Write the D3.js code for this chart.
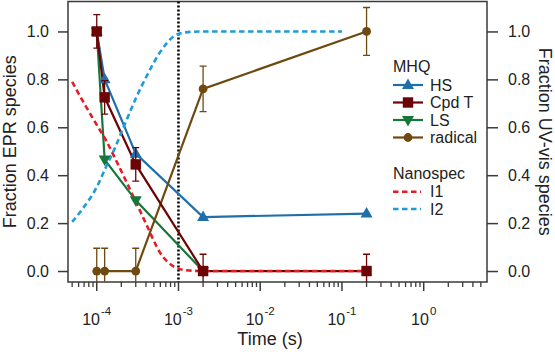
<!DOCTYPE html>
<html>
<head>
<meta charset="utf-8">
<script src="https://cdn.jsdelivr.net/npm/d3@7"></script>
<style>
  body { margin: 0; background: #fff; }
  svg { display: block; font-family: 'Liberation Sans', Arial, sans-serif; }
</style>
</head>
<body>
<div id="chart"></div>
<script>
/* MHQ (EPR) data */
const eprTimes = [1e-4, 1.25e-4, 3e-4, 2e-3, 2e-1];
const hsValues = [1.0, 0.80, 0.49, 0.225, 0.24];
const cpdTValues = [1.0, 0.725, 0.445, 0.0, 0.0];
const cpdTErrors = [0.07, 0.07, 0.07, 0.07, 0.07];
const lsTimes = [1e-4, 1.25e-4, 3e-4, 2e-3];
const lsValues = [1.0, 0.465, 0.295, 0.0];
const radicalValues = [0.0, 0.0, 0.0, 0.76, 1.0];
const radicalErrors = [0.095, 0.095, 0.095, 0.095, 0.1];

/* Nanospec (UV-vis) curves */
const i1Times = [5e-5, 7e-5, 1e-4, 1.3e-4, 1.65e-4, 2.25e-4, 3e-4, 4.1e-4, 6e-4, 8.8e-4, 1.2e-3, 2e-3, 1e-2, 1e-1, 2e-1];
const i1Values = [0.79, 0.70, 0.61, 0.545, 0.475, 0.38, 0.29, 0.19, 0.075, 0.018, 0.004, 0, 0, 0, 0];
const i2Times = [5e-5, 7e-5, 1e-4, 1.3e-4, 1.65e-4, 2.25e-4, 3e-4, 4.1e-4, 6e-4, 8.8e-4, 1.2e-3, 2e-3, 1e-2, 1e-1];
const i2Values = [0.205, 0.268, 0.35, 0.435, 0.51, 0.62, 0.72, 0.815, 0.915, 0.98, 0.996, 1, 1, 1];

/* Axes */
const yTicks = [0, 0.2, 0.4, 0.6, 0.8, 1.0];
const xMajorTicks = [1e-4, 1e-3, 1e-2, 1e-1, 1];
const xTickExponents = ['-4', '-3', '-2', '-1', '0'];
const markerTime = 1e-3;

const WIDTH = 555;
const HEIGHT = 352;
const FRAME_COLOR = '#3a3a3a';

const mhqSeries = [
  { name: 'HS', times: eprTimes, values: hsValues, errors: null, color: '#1f6fab', shape: 'up' },
  { name: 'LS', times: lsTimes, values: lsValues, errors: null, color: '#17773a', shape: 'down' },
  { name: 'radical', times: eprTimes, values: radicalValues, errors: radicalErrors, color: '#6e4a10', shape: 'circle' },
  { name: 'Cpd T', times: eprTimes, values: cpdTValues, errors: cpdTErrors, color: '#6c0406', shape: 'square' }
];
const legendOrder = ['HS', 'Cpd T', 'LS', 'radical'];

const nanoSeries = [
  { name: 'I1', times: i1Times, values: i1Values, color: '#e61b23' },
  { name: 'I2', times: i2Times, values: i2Values, color: '#1e9bdc' }
];

drawChart();

function drawChart () {
  const plot = { left: 68, right: 487, top: 1.5, bottom: 282 };

  const svg = d3.select('#chart')
    .append('svg')
    .attr('width', WIDTH)
    .attr('height', HEIGHT);

  const x = d3.scaleLog().domain([4.45e-5, 5.95]).range([plot.left, plot.right]);
  const y = d3.scaleLinear().domain([-0.0458, 1.125]).range([plot.bottom, plot.top]);

  svg.append('clipPath').attr('id', 'plot-clip')
    .append('rect')
    .attr('x', plot.left).attr('y', plot.top)
    .attr('width', plot.right - plot.left).attr('height', plot.bottom - plot.top);

  drawAxes(svg, x, y, plot);

  const g = svg.append('g').attr('clip-path', 'url(#plot-clip)');

  // vertical dotted line
  g.append('line')
    .attr('x1', x(markerTime)).attr('x2', x(markerTime))
    .attr('y1', plot.top).attr('y2', plot.bottom)
    .attr('stroke', '#000')
    .attr('stroke-width', 2.6)
    .attr('stroke-dasharray', '2,2');

  const line = d3.line().x(d => x(d.t)).y(d => y(d.v));
  const smooth = d3.line().x(d => x(d.t)).y(d => y(d.v)).curve(d3.curveMonotoneX);

  mhqSeries.forEach(s => {
    g.append('path')
      .attr('d', line(s.times.map((t, i) => ({ t, v: s.values[i] }))))
      .attr('fill', 'none')
      .attr('stroke', s.color)
      .attr('stroke-width', 2.2);
  });

  nanoSeries.forEach(s => {
    g.append('path')
      .attr('d', smooth(s.times.map((t, i) => ({ t, v: s.values[i] }))))
      .attr('fill', 'none')
      .attr('stroke', s.color)
      .attr('stroke-width', 2.6)
      .attr('stroke-dasharray', '5.5,3.5');
  });

  // error bars + markers
  mhqSeries.forEach(s => {
    s.times.forEach((t, i) => {
      const cx = x(t);
      const cy = y(s.values[i]);
      if (s.errors) {
        const lo = y(s.values[i] - s.errors[i]);
        const hi = y(s.values[i] + s.errors[i]);
        g.append('path')
          .attr('d', `M${cx},${lo}V${hi}M${cx - 3.5},${hi}H${cx + 3.5}M${cx - 3.5},${lo}H${cx + 3.5}`)
          .attr('fill', 'none')
          .attr('stroke', s.color)
          .attr('stroke-width', 1.3);
      }
      drawMarker(g, s.shape, cx, cy, s.color);
    });
  });

  drawLegend(svg);
}

function drawMarker (g, shape, cx, cy, color) {
  if (shape === 'circle') {
    g.append('circle').attr('cx', cx).attr('cy', cy).attr('r', 4.4).attr('fill', color);
  } else if (shape === 'square') {
    g.append('rect').attr('x', cx - 5.2).attr('y', cy - 5.2).attr('width', 10.4).attr('height', 10.4).attr('fill', color);
  } else if (shape === 'up') {
    g.append('path').attr('d', `M${cx},${cy - 6.5}L${cx + 6},${cy + 4}L${cx - 6},${cy + 4}Z`).attr('fill', color);
  } else {
    g.append('path').attr('d', `M${cx},${cy + 6.5}L${cx + 6},${cy - 4}L${cx - 6},${cy - 4}Z`).attr('fill', color);
  }
}

function drawAxes (svg, x, y, plot) {
  // frame
  svg.append('rect')
    .attr('x', plot.left).attr('y', plot.top)
    .attr('width', plot.right - plot.left).attr('height', plot.bottom - plot.top)
    .attr('fill', 'none')
    .attr('stroke', FRAME_COLOR)
    .attr('stroke-width', 1.5);

  const yLeft = svg.append('g')
    .attr('transform', `translate(${plot.left},0)`)
    .call(d3.axisLeft(y).tickValues(yTicks).tickFormat(d3.format('.1f')).tickSize(10).tickPadding(9));
  const yRight = svg.append('g')
    .attr('transform', `translate(${plot.right},0)`)
    .call(d3.axisRight(y).tickValues(yTicks).tickFormat(d3.format('.1f')).tickSize(11).tickPadding(10));

  [yLeft, yRight].forEach(a => {
    a.select('.domain').remove();
    a.selectAll('line').attr('stroke', FRAME_COLOR).attr('stroke-width', 1.5);
    a.selectAll('text').attr('fill', '#222').style('font-size', '16px').style('font-family', null);
  });

  // x minor ticks
  const [d0, d1] = x.domain();
  const minor = [];
  for (let e = -5; e <= 0; e++) {
    for (let m = 2; m <= 9; m++) {
      const v = m * Math.pow(10, e);
      if (v > d0 && v < d1) minor.push(v);
    }
  }
  const xAxis = svg.append('g').attr('transform', `translate(0,${plot.bottom})`);
  xAxis.selectAll('.minor')
    .data(minor)
    .enter()
    .append('line')
    .attr('x1', d => x(d)).attr('x2', d => x(d))
    .attr('y1', 0).attr('y2', 5)
    .attr('stroke', FRAME_COLOR)
    .attr('stroke-width', 1.3);
  xAxis.selectAll('.major')
    .data(xMajorTicks)
    .enter()
    .append('line')
    .attr('x1', d => x(d)).attr('x2', d => x(d))
    .attr('y1', 0).attr('y2', 9)
    .attr('stroke', FRAME_COLOR)
    .attr('stroke-width', 1.5);

  const labels = svg.append('g')
    .selectAll('text')
    .data(xMajorTicks)
    .enter()
    .append('text')
    .attr('x', d => x(d))
    .attr('y', 324.5)
    .attr('text-anchor', 'middle')
    .attr('fill', '#222')
    .style('font-size', '16px');
  labels.append('tspan').text('10');
  labels.append('tspan')
    .attr('dy', -10)
    .attr('dx', 1)
    .style('font-size', '11.5px')
    .text((d, i) => xTickExponents[i]);

  svg.append('text')
    .attr('x', 270)
    .attr('y', 345)
    .attr('text-anchor', 'middle')
    .attr('fill', '#222')
    .style('font-size', '18px')
    .text('Time (s)');

  svg.append('text')
    .attr('transform', `translate(16,${(plot.top + plot.bottom) / 2}) rotate(-90)`)
    .attr('text-anchor', 'middle')
    .attr('fill', '#222')
    .style('font-size', '18px')
    .text('Fraction EPR species');

  svg.append('text')
    .attr('transform', `translate(539,${(plot.top + plot.bottom) / 2}) rotate(90)`)
    .attr('text-anchor', 'middle')
    .attr('fill', '#222')
    .style('font-size', '18px')
    .text('Fraction UV-vis species');
}

function drawLegend (svg) {
  const lx = 393;
  const legend = svg.append('g').style('font-size', '16px').attr('fill', '#222');

  legend.append('text').attr('x', lx).attr('y', 72).text('MHQ');

  legendOrder.forEach((name, i) => {
    const s = mhqSeries.find(d => d.name === name);
    const cy = 85 + i * 17.5;
    legend.append('line')
      .attr('x1', lx).attr('x2', lx + 30)
      .attr('y1', cy).attr('y2', cy)
      .attr('stroke', s.color)
      .attr('stroke-width', 2.2);
    drawMarker(legend, s.shape, lx + 15, cy, s.color);
    legend.append('text').attr('x', lx + 37).attr('y', cy + 5.5).text(s.name);
  });

  legend.append('text').attr('x', lx).attr('y', 179).text('Nanospec');

  nanoSeries.forEach((s, i) => {
    const cy = 191.7 + i * 17.3;
    legend.append('line')
      .attr('x1', lx).attr('x2', lx + 28)
      .attr('y1', cy).attr('y2', cy)
      .attr('stroke', s.color)
      .attr('stroke-width', 2.6)
      .attr('stroke-dasharray', '5.5,3.5');
    legend.append('text').attr('x', lx + 37).attr('y', cy + 5.5).text(s.name);
  });
}
</script>
</body>
</html>
